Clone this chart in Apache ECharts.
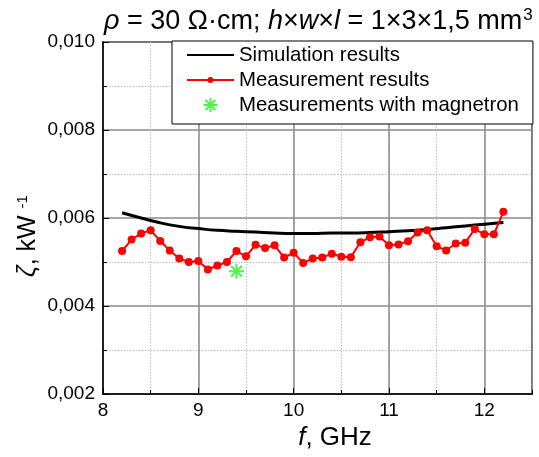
<!DOCTYPE html>
<html>
<head>
<meta charset="utf-8">
<script src="https://cdn.jsdelivr.net/npm/echarts@6/dist/echarts.min.js"></script>
<style>
  html, body { margin: 0; padding: 0; background: #fff; }
  #chart { width: 539px; height: 457px; }
</style>
</head>
<body>
<div id="chart"></div>
<script>
// Measured frequencies, GHz
const measFreq = [
  8.2, 8.3, 8.4, 8.5, 8.6, 8.7, 8.8, 8.9, 9.0, 9.1,
  9.2, 9.3, 9.4, 9.5, 9.6, 9.7, 9.8, 9.9, 10.0, 10.1,
  10.2, 10.3, 10.4, 10.5, 10.6, 10.7, 10.8, 10.9, 11.0, 11.1,
  11.2, 11.3, 11.4, 11.5, 11.6, 11.7, 11.8, 11.9, 12.0, 12.1,
  12.2
];
// Measured sensitivity, 1/kW
const measValues = [
  0.00525, 0.00551, 0.00565, 0.00572, 0.00548, 0.00526, 0.00508, 0.00500, 0.00502, 0.00483,
  0.00492, 0.00500, 0.00525, 0.00513, 0.00539, 0.00532, 0.00538, 0.00510, 0.00521, 0.00498,
  0.00508, 0.00510, 0.00519, 0.00512, 0.00511, 0.00545, 0.00556, 0.00558, 0.00538, 0.00540,
  0.00547, 0.00567, 0.00572, 0.00536, 0.00526, 0.00542, 0.00544, 0.00575, 0.00563, 0.00563,
  0.00614
];
// Simulated curve
const simFreq = [
  8.2, 8.4, 8.6, 8.8, 9.0, 9.2, 9.4, 9.6, 9.8, 10.0,
  10.2, 10.4, 10.6, 10.8, 11.0, 11.2, 11.4, 11.6, 11.8, 12.0, 12.2
];
const simValues = [
  0.00612, 0.00600, 0.00589, 0.00581, 0.00576, 0.00572, 0.00570, 0.00568, 0.00566, 0.00565,
  0.00565, 0.00566, 0.00566, 0.00567, 0.00569, 0.00571, 0.00574, 0.00578, 0.00582, 0.00586, 0.00590
];
// Single point measured with the magnetron
const magnetronFreq = [9.4];
const magnetronValues = [0.00479];

const seriesNames = ['Simulation results', 'Measurement results', 'Measurements with magnetron'];

const zip = (xs, ys) => xs.map((x, i) => [x, ys[i]]);

const FONT = 'Arial, "Liberation Sans", sans-serif';
const starPath = 'path://M0,-10L0,10M-10,0L10,0M-7.07,-7.07L7.07,7.07M-7.07,7.07L7.07,-7.07';
// legend icon: line with a small dot; corner points keep the 47x14 box unstretched
const lineDotIcon = 'path://M0,0L0.01,0Z M0,14L0.01,14Z M0,6H47V8H0Z M20.5,7A3,3 0 1,1 26.5,7A3,3 0 1,1 20.5,7Z';
const STAR_GREEN = '#22ee22';

const chart = echarts.init(document.getElementById('chart'), null, { renderer: 'canvas' });

chart.setOption({
  backgroundColor: '#fff',
  animation: false,
  textStyle: { fontFamily: FONT },
  title: {
    text: '{i|ρ} = 30 Ω·cm; {i|h}×{i|w}×{i|l} = 1×3×1,5 mm{sup|3}',
    left: 104,
    top: 7,
    padding: 0,
    textStyle: {
      fontFamily: FONT,
      fontSize: 27,
      fontWeight: 'normal',
      color: '#000',
      rich: {
        i: { fontFamily: FONT, fontSize: 27, fontStyle: 'italic', color: '#000' },
        sup: { fontFamily: FONT, fontSize: 17, color: '#000', verticalAlign: 'top', padding: [0, 0, 12, 1] }
      }
    }
  },
  legend: {
    orient: 'vertical',
    left: 172,
    top: 41,
    data: [
      { name: seriesNames[0], itemStyle: { opacity: 0, color: 'rgba(0,0,0,0)', borderWidth: 0 } },
      { name: seriesNames[1], icon: lineDotIcon, itemStyle: { color: '#ff0000', borderWidth: 0 } },
      { name: seriesNames[2] }
    ],
    backgroundColor: '#fff',
    borderColor: '#000',
    borderWidth: 1,
    padding: [4, 14, 9, 14],
    itemWidth: 47,
    itemHeight: 14,
    itemGap: 5,
    textStyle: { fontFamily: FONT, fontSize: 20.4, color: '#000' }
  },
  grid: {
    left: 103,
    right: 7,
    top: 42,
    bottom: 63,
    show: true,
    borderColor: '#000',
    borderWidth: 1.5,
    backgroundColor: 'transparent'
  },
  xAxis: [
    {
      // dotted half-GHz grid, drawn underneath
      type: 'value',
      position: 'bottom',
      min: 8,
      max: 12.5,
      interval: 0.5,
      axisLine: { show: false },
      axisLabel: { show: false },
      axisTick: { show: true, inside: true, length: 4, lineStyle: { color: '#000', width: 1 } },
      splitLine: { show: true, lineStyle: { color: '#bdbdbd', type: [1.5, 1.5], width: 1 } }
    },
    {
      type: 'value',
      position: 'bottom',
      min: 8,
      max: 12.5,
      interval: 1,
      axisLine: { show: true, onZero: false, lineStyle: { color: '#000', width: 1.5 } },
      axisTick: { show: true, inside: true, length: 6, lineStyle: { color: '#000', width: 1 } },
      axisLabel: {
        show: true,
        margin: 7,
        fontFamily: FONT,
        fontSize: 19,
        color: '#000',
        showMaxLabel: false,
        formatter: v => (Math.abs(v - Math.round(v)) < 1e-9 ? String(Math.round(v)) : '')
      },
      splitLine: { show: true, lineStyle: { color: '#8a8a8a', width: 1.5 } }
    }
  ],
  yAxis: {
    type: 'value',
    min: 0.002,
    max: 0.010,
    interval: 0.002,
    axisLine: { show: true, onZero: false, lineStyle: { color: '#000', width: 1.5 } },
    axisTick: { show: true, inside: true, length: 6, lineStyle: { color: '#000', width: 1 } },
    minorTick: { show: true, splitNumber: 2, length: 4, lineStyle: { color: '#000', width: 1 } },
    axisLabel: {
      margin: 8,
      fontFamily: FONT,
      fontSize: 19,
      color: '#000',
      formatter: v => v.toFixed(3).replace('.', ',')
    },
    splitLine: { show: true, lineStyle: { color: '#8a8a8a', width: 1.5 } },
    minorSplitLine: { show: true, lineStyle: { color: '#bdbdbd', type: [1.5, 1.5], width: 1 } }
  },
  series: [
    {
      name: seriesNames[0],
      type: 'line',
      xAxisIndex: 1,
      data: zip(simFreq, simValues),
      smooth: true,
      symbol: 'none',
      lineStyle: { color: '#000', width: 3 },
      itemStyle: { color: '#000' },
      z: 3
    },
    {
      name: seriesNames[1],
      type: 'line',
      xAxisIndex: 1,
      data: zip(measFreq, measValues),
      symbol: 'circle',
      symbolSize: 8,
      lineStyle: { color: '#ff0000', width: 2 },
      itemStyle: { color: '#ff0000' },
      z: 4
    },
    {
      name: seriesNames[2],
      type: 'scatter',
      xAxisIndex: 1,
      data: zip(magnetronFreq, magnetronValues),
      symbol: starPath,
      symbolSize: 15,
      itemStyle: { color: 'rgba(0,0,0,0)', borderColor: STAR_GREEN, borderWidth: 2 },
      z: 5
    }
  ],
  graphic: [
    {
      type: 'text',
      x: 335,
      y: 438,
      style: {
        text: '{i|f}, GHz',
        font: '26px ' + FONT,
        fill: '#000',
        align: 'center',
        verticalAlign: 'middle',
        rich: {
          i: { fontFamily: FONT, fontSize: 26, fontStyle: 'italic', fill: '#000' }
        }
      }
    },
    {
      type: 'text',
      x: 28,
      y: 236,
      rotation: Math.PI / 2,
      style: {
        text: '{i|ζ}, kW {sup|-1}',
        font: '25px ' + FONT,
        fill: '#000',
        align: 'center',
        verticalAlign: 'middle',
        rich: {
          i: { fontFamily: FONT, fontSize: 25, fontStyle: 'italic', fill: '#000' },
          sup: { fontFamily: FONT, fontSize: 15, fill: '#000', verticalAlign: 'top', padding: [0, 0, 10, 0] }
        }
      }
    }
  ]
});
</script>
</body>
</html>
